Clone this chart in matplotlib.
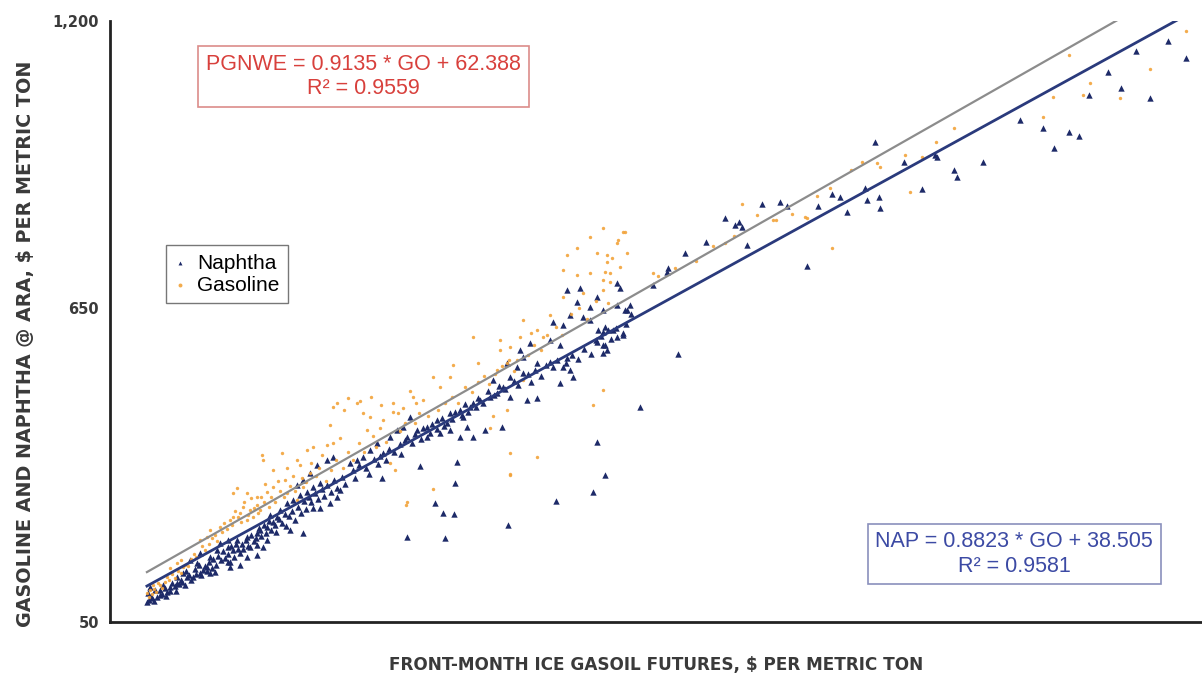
import matplotlib
matplotlib.use("Agg")
import matplotlib.pyplot as plt
import numpy as np

# Naphtha @ ARA vs front-month ICE gasoil ($/t)
nap_go = [
    91, 97, 92, 101, 95, 107, 115, 119, 110, 127, 131, 139, 134, 146, 127,
    154, 158, 166, 172, 163, 151, 142, 154, 166, 175, 187, 194, 190, 202, 210,
    178, 187, 198, 210, 222, 214, 222, 229, 234, 226, 234, 241, 246, 238,
    250, 258, 265, 273, 282, 289, 297, 262, 277, 289, 297, 309, 317, 321,
    270, 277, 285, 294, 306, 313, 187, 222, 202, 190,
    93, 96, 99, 103, 106, 109, 112, 114, 118, 121, 124, 126, 129, 133, 136,
    138, 141, 144, 148, 150, 153, 156, 160, 162, 165, 168, 170, 173, 176,
    179, 182, 184, 188, 191, 195, 197, 199,
    204, 206, 209, 212, 215, 218, 221, 224, 227, 230, 233, 236, 239, 243,
    245, 248, 252, 255, 257, 260,
    264, 267, 271, 274, 278, 281, 284, 287, 291, 295, 299, 302, 305, 310,
    314, 318, 323, 327,
    336, 339, 344, 352, 355, 361, 366, 369, 376, 379, 385, 392, 394, 399,
    407, 410, 417, 420, 428, 431, 436, 442, 445, 455, 458, 466, 470, 474,
    483, 486, 491, 497, 505, 511, 518, 528, 533, 545, 549, 553, 560, 566,
    575, 580, 590, 598, 605, 612, 620, 626, 632, 644, 650, 662, 668,
    591, 607, 627, 651, 655, 603, 619, 634, 651, 663, 575, 587, 595, 611,
    619, 628, 637, 646, 658, 627, 634, 639, 535, 547, 539, 571, 583, 591,
    520, 532, 524, 539, 556, 571, 587, 595, 599, 583, 503, 515, 508, 524,
    488, 500, 480, 544, 556, 464, 476, 468, 452, 449, 437, 425, 413,
    405, 396, 401, 389, 381, 365, 357, 348, 372, 341, 333, 452, 464, 472,
    425, 440,
    371, 416, 460, 458, 434, 444, 457, 521, 578, 622, 637, 627, 678, 514,
    494, 479, 401, 446,
    780, 792, 796, 800, 824, 845, 757, 806, 732, 712, 711, 694, 666, 660,
    640, 634, 651, 658, 637, 634, 724,
    958, 1131, 1158, 1087, 1053, 1056, 1015, 1030, 1032, 993, 946, 949, 963,
    964, 925, 917, 907, 890, 877, 853,
    1307, 1329, 1269, 1236, 1251, 1213, 1286, 1172, 1189, 1202,
]
nap_price = [
    88, 96, 105, 111, 117, 102, 107, 117, 121, 125, 130, 136, 144, 136, 136,
    144, 150, 144, 146, 155, 163, 169, 182, 174, 188, 194, 188, 165, 182, 174,
    201, 207, 207, 213, 220, 194, 197, 194, 207, 226, 232, 241, 251, 255,
    264, 278, 283, 293, 299, 308, 316, 226, 220, 268, 268, 278, 289, 303,
    312, 322, 335, 350, 360, 366, 165, 178, 159, 155,
    92, 100, 90, 98, 112, 104, 115, 99, 110, 124, 118, 109, 122, 127, 120,
    148, 140, 131, 152, 141, 160, 139, 158, 148, 165, 153, 170, 160, 176,
    168, 185, 172, 180, 196, 174, 200, 190,
    199, 190, 206, 196, 216, 205, 211, 229, 215, 236, 221, 244, 226, 236,
    222, 248, 240, 257, 233, 252,
    262, 246, 270, 258, 282, 266, 290, 279, 296, 285, 305, 292, 312, 298,
    322, 306, 328, 314,
    340, 326, 350, 345, 333, 362, 352, 368, 360, 381, 375, 390, 372, 398,
    392, 409, 400, 421, 412, 428, 419, 441, 425, 438, 452, 446, 468, 452,
    462, 478, 470, 492, 485, 502, 495, 512, 503, 525, 510, 533, 520, 541,
    538, 552, 545, 560, 553, 572, 563, 590, 598, 592, 612, 620, 640,
    685, 689, 672, 699, 689, 662, 653, 647, 657, 647, 624, 618, 637, 634,
    628, 609, 614, 609, 603, 586, 580, 570, 570, 584, 557, 590, 580, 555,
    546, 538, 519, 526, 546, 548, 538, 532, 519, 507, 513, 500, 488, 481,
    475, 481, 469, 475, 479, 456, 461, 442, 450, 431, 437, 423, 417,
    442, 423, 404, 417, 404, 393, 379, 366, 373, 360, 354, 417, 404, 423,
    404, 412,
    326, 349, 356, 316, 278, 259, 257, 236, 282, 299, 331, 394, 461, 423,
    417, 404, 213, 211,
    823, 810, 815, 806, 850, 854, 777, 771, 756, 727, 720, 695, 657, 647,
    609, 605, 595, 599, 580, 565, 563,
    968, 1011, 995, 930, 915, 902, 879, 944, 940, 930, 880, 857, 863,
    842, 835, 863, 869, 846, 731, 846,
    1162, 1129, 1143, 1102, 1072, 1058, 1053, 957, 988, 980,
]

# Gasoline (Eurobob) NWE vs front-month ICE gasoil ($/t)
gas_go = [
    91, 95, 98, 104, 115, 119, 127, 134, 131, 154, 163, 166, 172, 178,
    194, 202, 206, 214, 217, 210, 222, 226, 194, 198, 210, 222, 234, 241,
    228, 229, 241, 252, 256, 270, 282, 289, 306, 313, 321, 309,
    258, 270, 277, 285,
    93, 97, 100, 102, 106, 109, 112, 117, 121, 124, 128, 132, 136, 140,
    143, 147, 150, 157, 160, 165, 169, 174, 180, 183, 186, 190, 192, 196,
    200, 203, 207, 212, 215, 219, 223, 227, 230, 232, 236, 239, 244, 247,
    250, 254, 258, 262, 265, 268, 273, 276, 280, 286, 292, 296, 300, 304,
    310, 316, 324, 330, 336, 344, 350, 360, 364, 376, 392, 398, 410, 415,
    426, 438, 446, 455, 462, 470, 478, 486, 492, 498, 506, 514, 528, 545,
    552, 560, 568, 578, 585, 596, 606, 615, 626, 640,
    318, 331, 345, 358, 370, 384, 396, 405, 412,
    700, 720, 745, 765, 780, 860, 905, 930,
    591, 603, 627, 639, 655, 663, 651, 619, 658, 587, 603, 619, 634, 643,
    587, 610, 634, 539, 556, 563, 571, 512, 523, 532, 520, 480, 508, 539,
    432, 452, 440, 408, 420, 384, 372, 369, 357, 341, 348, 503, 520, 500,
    524, 524, 556, 622, 634, 380, 386, 432, 401,
    313, 326, 353, 390, 456, 485, 512, 522, 535, 549, 400, 523,
    694, 643, 639, 634, 660, 652, 645, 637, 791, 818, 837,
    1000, 1031, 1052, 1158, 907, 943, 961, 964, 889, 875, 994, 1015,
    1329, 1286, 1214, 1206, 1190, 800, 840, 877, 1170, 1250,
]
gas_price = [
    105, 111, 121, 125, 136, 153, 163, 155, 169, 207, 213, 226, 216, 232,
    251, 259, 270, 264, 251, 245, 274, 264, 297, 306, 297, 289, 299, 308,
    370, 360, 341, 374, 322, 360, 379, 385, 389, 393, 402, 427,
    297, 283, 308, 335,
    98, 104, 114, 108, 120, 115, 127, 130, 141, 135, 148, 144, 160, 157,
    170, 181, 175, 195, 188, 200, 210, 205, 222, 240, 228, 245, 236, 262,
    250, 241, 280, 255, 288, 268, 258, 290, 280, 315, 270, 290, 280, 320,
    300, 290, 345, 310, 330, 300, 350, 325, 318, 355, 330, 345, 370, 320,
    340, 360, 345, 375, 360, 392, 375, 405, 385, 395, 415, 430, 430, 450,
    445, 455, 470, 480, 470, 500, 490, 510, 520, 505, 525, 540, 530, 560,
    580, 570, 600, 615, 600, 640, 650, 630, 665, 660,
    470, 478, 472, 481, 465, 470, 460, 492, 470,
    712, 728, 740, 770, 775, 830, 880, 915,
    752, 766, 756, 739, 729, 756, 775, 786, 796, 723, 714, 718, 704, 718,
    672, 680, 685, 628, 609, 595, 637, 590, 576, 551, 546, 595, 532, 513,
    519, 519, 500, 481, 475, 452, 437, 421, 442, 469, 450, 444, 456, 421,
    373, 331, 366, 465, 494, 354, 341, 304, 280,
    461, 456, 417, 450, 542, 546, 570, 551, 595, 603, 274, 333,
    718, 701, 752, 804, 796, 781, 746, 720, 789, 829, 819,
    873, 968, 995, 1016, 766, 930, 928, 921, 865, 825, 944, 940,
    1180, 1108, 1081, 1058, 1135, 850, 819, 823, 1055, 1053,
]

# Least-squares trendlines (slope, intercept, R^2)
gas_fit = (0.9135, 62.388, 0.9559)
nap_fit = (0.8823, 38.505, 0.9581)

y_ticks = [50, 650, 1200]
y_tick_labels = ["50", "650", "1,200"]

NAVY = "#1d2a68"
ORANGE = "#f2a33a"

fig = plt.figure(figsize=(12.02, 6.77), dpi=100)
ax = fig.add_axes([110 / 1202, 55 / 677, 1092 / 1202, 601 / 677])

ax.scatter(nap_go, nap_price, marker="^", s=21, color=NAVY, linewidths=0,
           label="Naphtha", zorder=3)
ax.scatter(gas_go, gas_price, marker="o", s=6, color=ORANGE, linewidths=0,
           alpha=0.9, label="Gasoline", zorder=3)

all_go = np.array(nap_go + gas_go, dtype=float)
xs = np.array([all_go.min(), all_go.max()])
ax.plot(xs, gas_fit[0] * xs + gas_fit[1], color="#8c8c8c", lw=1.6, zorder=4)
ax.plot(xs, nap_fit[0] * xs + nap_fit[1], color="#2a3a7c", lw=2.0, zorder=4)

ax.set_xlim(47, 1348)
ax.set_ylim(50, 1200)

ax.set_xticks([])
ax.set_yticks(y_ticks)
ax.set_yticklabels(y_tick_labels, fontfamily="DejaVu Sans", fontweight="bold",
                   fontsize=10.5, color="#3a3a3a")
ax.tick_params(axis="y", length=0, pad=8)

for side in ("top", "right"):
    ax.spines[side].set_visible(False)
for side in ("left", "bottom"):
    ax.spines[side].set_color("#222222")
    ax.spines[side].set_linewidth(2.0)

ax.set_ylabel("GASOLINE AND NAPHTHA @ ARA, $ PER METRIC TON",
              fontfamily="DejaVu Sans", fontweight="bold", fontsize=13.8,
              color="#3a3a3a")
ax.yaxis.set_label_coords(-0.069, 0.463)
ax.set_xlabel("FRONT-MONTH ICE GASOIL FUTURES, $ PER METRIC TON",
              fontfamily="DejaVu Sans", fontweight="bold", fontsize=12.2,
              color="#3a3a3a")
ax.xaxis.set_label_coords(0.5, -0.056)

ax.text(0.232, 0.908,
        f"PGNWE = {gas_fit[0]} * GO + {gas_fit[1]}\nR\u00b2 = {gas_fit[2]}",
        transform=ax.transAxes, ha="center", va="center",
        fontfamily="Liberation Sans", fontsize=15.5, color="#d8403c",
        linespacing=1.2,
        bbox=dict(boxstyle="square,pad=0.36", facecolor="white",
                  edgecolor="#dc8c8a", linewidth=1.2))
ax.text(0.828, 0.113,
        f"NAP = {nap_fit[0]} * GO + {nap_fit[1]}\nR\u00b2 = {nap_fit[2]}",
        transform=ax.transAxes, ha="center", va="center",
        fontfamily="Liberation Sans", fontsize=15.5, color="#3c4aa4",
        linespacing=1.2,
        bbox=dict(boxstyle="square,pad=0.36", facecolor="white",
                  edgecolor="#8a90bc", linewidth=1.2))

leg = ax.legend(loc="upper left", bbox_to_anchor=(0.051, 0.627),
                prop={"family": "Liberation Sans", "size": 15},
                frameon=True, fancybox=False, shadow=False,
                handlelength=0.6, handletextpad=0.5, borderpad=0.4,
                labelspacing=0.15, borderaxespad=0)
leg.get_frame().set_edgecolor("#555555")
leg.get_frame().set_linewidth(1.0)
for h in leg.legend_handles:
    h.set_sizes([8])

fig.savefig("out.png", dpi=100, facecolor="white")
